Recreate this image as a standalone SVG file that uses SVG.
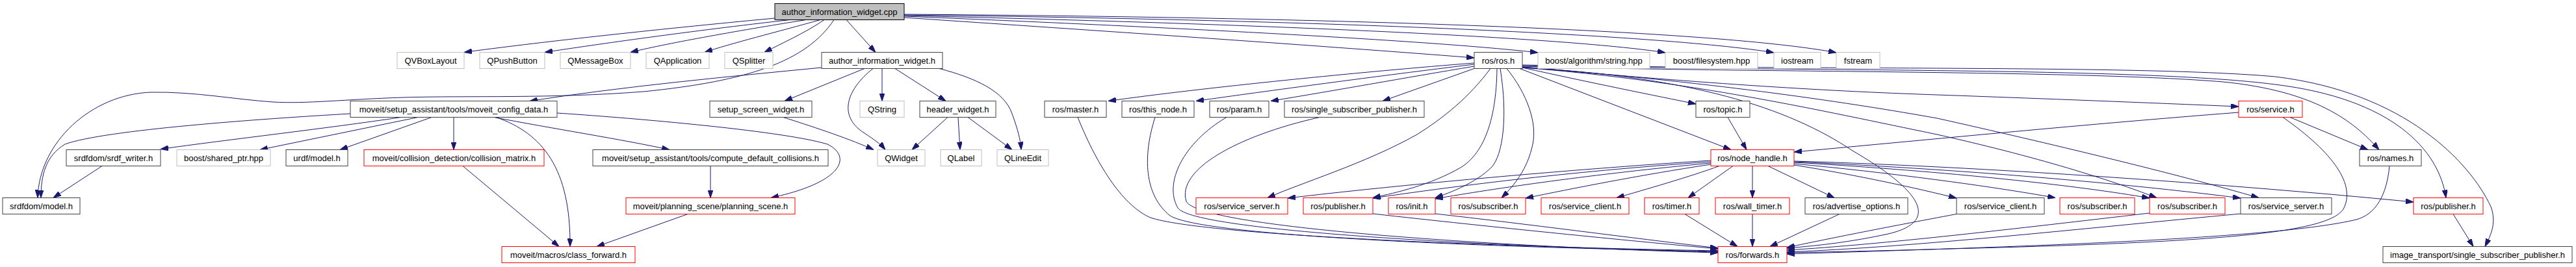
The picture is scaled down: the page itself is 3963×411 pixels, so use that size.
<svg xmlns="http://www.w3.org/2000/svg" width="3963" height="411" viewBox="0 0 3963 411">
<style>
rect{fill:#fff;stroke-width:1}
.b{stroke:#404040}
.g{stroke:#bfbfbf}
.r{stroke:#ff0000}
.top{fill:#bfbfbf;stroke:#000}
text{font-family:"Liberation Sans",Arial,sans-serif;font-size:13px;fill:#000;text-anchor:middle}
#edges path{fill:none;stroke:#191970;stroke-width:1;marker-end:url(#arr)}
</style>
<defs>
<marker id="arr" viewBox="0 0 12 8" refX="12" refY="4" markerWidth="12" markerHeight="8" orient="auto" markerUnits="userSpaceOnUse"><path d="M0,0 L12,4 L0,8 z" fill="#191970" stroke="#191970" stroke-width="1"/></marker>
</defs>
<rect x="0" y="0" width="3963" height="411" style="fill:#fff;stroke:none"/>
<g id="edges">
<path d="M1192,28 C1000,46 820,66 714,80.5"/>
<path d="M1215,30.5 C1060,48 920,68 838,80.5"/>
<path d="M1240,30.5 C1130,48 1020,68 970,80.5"/>
<path d="M1262,30.5 C1200,48 1120,68 1084,80.5"/>
<path d="M1268,30.5 C1240,50 1200,68 1176,80.5"/>
<path d="M1283,30.5 C1240,95 1150,125 990,141 C850,152 720,147 620,150 C530,153 470,160 420,157 C360,153 300,141 233,142 C140,145 60,220 58,304.5"/>
<path d="M1302,30.5 L1347,80.5"/>
<path d="M1391,27 C1700,48 2000,68 2268,89"/>
<path d="M1391,25 C1800,42 2200,62 2366,81"/>
<path d="M1391,24 C1900,36 2400,56 2562,81"/>
<path d="M1391,23 C2000,30 2550,52 2729,81"/>
<path d="M1391,22 C2100,27 2650,48 2825,81"/>
<path d="M1264,104 C1120,118 960,133 815,155.5"/>
<path d="M1330,105.5 L1207,155.5"/>
<path d="M1343,105.5 C1300,140 1290,180 1330,205 C1345,215 1355,222 1362,230.5"/>
<path d="M1357,105.5 L1357,155.5"/>
<path d="M1377,105.5 L1455,155.5"/>
<path d="M1445,105.5 C1500,120 1545,140 1557,175 C1566,200 1570,215 1571,230.5"/>
<path d="M539,175 C400,183 160,200 100,222 C70,240 63,270 63,304.5"/>
<path d="M617,180.5 C500,198 350,215 247,229.5"/>
<path d="M643,180.5 L400,230.5"/>
<path d="M664,180.5 L523,230.5"/>
<path d="M698,180.5 L698,230.5"/>
<path d="M763,180.5 C835,205 878,260 877,379.5"/>
<path d="M760,180.5 C850,198 960,215 1030,230.5"/>
<path d="M857,174 C950,180 1200,200 1273,222 C1310,240 1300,280 1186,304.5"/>
<path d="M712,255.5 L860,379.5"/>
<path d="M1093,255.5 L1093,304.5"/>
<path d="M1058,329.5 L918,379.5"/>
<path d="M157,255.5 L82,304.5"/>
<path d="M1205,180.5 C1260,198 1310,215 1344,230.5"/>
<path d="M1458,180.5 L1403,230.5"/>
<path d="M1474,180.5 L1477,230.5"/>
<path d="M1489,180.5 L1557,230.5"/>
<path d="M2268,97 C2100,110 1850,135 1705,155.5"/>
<path d="M2268,99 C2120,117 1950,140 1840,155.5"/>
<path d="M2268,102 C2160,120 2050,140 1955,155.5"/>
<path d="M2268,105.5 L2127,155.5"/>
<path d="M2293,105.5 C2260,150 2220,182 2180,207 C2100,252 2000,282 1950,304.5"/>
<path d="M2303,105.5 C2302,190 2280,238 2247,258 C2200,285 2150,296 2112,304.5"/>
<path d="M2308,105.5 C2320,180 2312,238 2295,257 C2270,282 2232,296 2208,304.5"/>
<path d="M2318,105.5 C2350,145 2365,190 2358,222 C2350,260 2330,285 2310,304.5"/>
<path d="M2342,104 C2450,128 2550,148 2609,160"/>
<path d="M2338,105.5 L2663,230.5"/>
<path d="M2342,103 C2600,127 2800,140 2980,146 C3150,152 3300,158 3444,164"/>
<path d="M2342,103 C2600,124 2800,150 2980,182 C3150,220 3350,268 3475,304.5"/>
<path d="M2342,104 C2600,124 2800,170 2980,207 C3150,245 3260,282 3318,304.5"/>
<path d="M2342,104 C2600,118 2750,165 2850,232 C2950,290 2990,340 2905,360 C2850,372 2800,378 2749,382"/>
<path d="M2342,102 C2700,112 3200,108 3420,126 C3560,140 3620,185 3660,230.5"/>
<path d="M2342,101 C2800,110 3300,104 3500,130 C3680,152 3752,230 3763,304.5"/>
<path d="M2342,100 C2800,108 3300,100 3500,118 C3700,142 3800,250 3832,318 C3842,345 3830,365 3823,379.5"/>
<path d="M3444,173 C3200,192 3000,212 2760,234"/>
<path d="M3523,180.5 L3643,230.5"/>
<path d="M3512,180.5 C3590,235 3625,285 3605,322 C3580,360 3400,373 3000,383 C2900,386 2800,388 2749,389"/>
<path d="M3676,255.5 C3672,300 3655,330 3625,338 C3500,368 3100,380 2749,391"/>
<path d="M3774,329.5 L3805,379.5"/>
<path d="M2658,180.5 L2687,230.5"/>
<path d="M2632,247 C2400,262 2150,285 1981,305"/>
<path d="M2632,249 C2400,265 2230,288 2112,305"/>
<path d="M2632,251 C2450,268 2300,290 2208,306"/>
<path d="M2632,253 C2520,270 2420,290 2347,305"/>
<path d="M2645,255.5 C2600,272 2530,292 2487,304.5"/>
<path d="M2666,255.5 L2597,304.5"/>
<path d="M2696,255.5 L2696,304.5"/>
<path d="M2720,255.5 L2822,304.5"/>
<path d="M2760,254 C2860,270 2950,290 3010,305"/>
<path d="M2760,252 C2900,265 3060,286 3162,304.5"/>
<path d="M2760,250 C3000,264 3200,286 3307,305"/>
<path d="M2760,249 C3050,262 3300,286 3447,305"/>
<path d="M2760,248 C3100,258 3500,290 3713,311"/>
<path d="M1658,180.5 C1690,260 1730,318 1770,335 C1850,362 2300,380 2643,386"/>
<path d="M1777,180.5 C1758,240 1760,300 1800,332 C1850,364 2300,381 2643,387"/>
<path d="M1887,180.5 C1820,220 1790,282 1812,320 C1835,356 2300,380 2643,388"/>
<path d="M2030,180.5 C1900,210 1810,262 1825,310 C1845,350 2300,380 2643,389"/>
<path d="M2112,329 C2300,350 2500,370 2643,383"/>
<path d="M2208,329 C2350,345 2500,365 2643,382"/>
<path d="M2592,329.5 L2673,379.5"/>
<path d="M2696,329.5 L2696,379.5"/>
<path d="M2830,329.5 L2723,379.5"/>
<path d="M3010,329.5 C2900,350 2800,370 2749,381"/>
<path d="M3307,328 C3100,352 2900,376 2749,385"/>
<path d="M3447,329 C3200,352 2950,380 2749,388"/>
</g>
<g id="n_cpp"><rect class="top" x="1192" y="5.5" width="199" height="25"/><text x="1291.5" y="22.5">author_information_widget.cpp</text></g>
<g id="n_qvbox"><rect class="g" x="611" y="80.5" width="103" height="25"/><text x="662.5" y="97.5">QVBoxLayout</text></g>
<g id="n_qpush"><rect class="g" x="738" y="80.5" width="100" height="25"/><text x="788" y="97.5">QPushButton</text></g>
<g id="n_qmsg"><rect class="g" x="862" y="80.5" width="108" height="25"/><text x="916" y="97.5">QMessageBox</text></g>
<g id="n_qapp"><rect class="g" x="994" y="80.5" width="97" height="25"/><text x="1042.5" y="97.5">QApplication</text></g>
<g id="n_qsplit"><rect class="g" x="1115" y="80.5" width="74" height="25"/><text x="1152" y="97.5">QSplitter</text></g>
<g id="n_aiwh"><rect class="b" x="1264" y="80.5" width="186" height="25"/><text x="1357" y="97.5">author_information_widget.h</text></g>
<g id="n_ros"><rect class="b" x="2268" y="80.5" width="74" height="25"/><text x="2305" y="97.5">ros/ros.h</text></g>
<g id="n_bas"><rect class="g" x="2366" y="80.5" width="172" height="25"/><text x="2452" y="97.5">boost/algorithm/string.hpp</text></g>
<g id="n_bfs"><rect class="g" x="2562" y="80.5" width="142" height="25"/><text x="2633" y="97.5">boost/filesystem.hpp</text></g>
<g id="n_ios"><rect class="g" x="2729" y="80.5" width="72" height="25"/><text x="2765" y="97.5">iostream</text></g>
<g id="n_fst"><rect class="g" x="2825" y="80.5" width="67" height="25"/><text x="2858.5" y="97.5">fstream</text></g>
<g id="n_mcd"><rect class="b" x="539" y="155.5" width="318" height="25"/><text x="698" y="172.5">moveit/setup_assistant/tools/moveit_config_data.h</text></g>
<g id="n_ssw"><rect class="b" x="1092" y="155.5" width="157" height="25"/><text x="1170.5" y="172.5">setup_screen_widget.h</text></g>
<g id="n_qstr"><rect class="g" x="1323" y="155.5" width="68" height="25"/><text x="1357" y="172.5">QString</text></g>
<g id="n_hw"><rect class="b" x="1415" y="155.5" width="117" height="25"/><text x="1473.5" y="172.5">header_widget.h</text></g>
<g id="n_master"><rect class="b" x="1607" y="155.5" width="95" height="25"/><text x="1654.5" y="172.5">ros/master.h</text></g>
<g id="n_thisnode"><rect class="b" x="1726" y="155.5" width="111" height="25"/><text x="1781.5" y="172.5">ros/this_node.h</text></g>
<g id="n_param"><rect class="b" x="1861" y="155.5" width="91" height="25"/><text x="1906.5" y="172.5">ros/param.h</text></g>
<g id="n_ssp"><rect class="b" x="1976" y="155.5" width="215" height="25"/><text x="2083.5" y="172.5">ros/single_subscriber_publisher.h</text></g>
<g id="n_topic"><rect class="b" x="2609" y="155.5" width="83" height="25"/><text x="2650.5" y="172.5">ros/topic.h</text></g>
<g id="n_service"><rect class="r" x="3444" y="155.5" width="98" height="25"/><text x="3493" y="172.5">ros/service.h</text></g>
<g id="n_srdfw"><rect class="b" x="102" y="230.5" width="145" height="25"/><text x="174.5" y="247.5">srdfdom/srdf_writer.h</text></g>
<g id="n_shptr"><rect class="g" x="272" y="230.5" width="144" height="25"/><text x="344" y="247.5">boost/shared_ptr.hpp</text></g>
<g id="n_urdf"><rect class="b" x="440" y="230.5" width="95" height="25"/><text x="487.5" y="247.5">urdf/model.h</text></g>
<g id="n_colm"><rect class="r" x="560" y="230.5" width="277" height="25"/><text x="698.5" y="247.5">moveit/collision_detection/collision_matrix.h</text></g>
<g id="n_cdc"><rect class="b" x="912" y="230.5" width="362" height="25"/><text x="1093" y="247.5">moveit/setup_assistant/tools/compute_default_collisions.h</text></g>
<g id="n_qwid"><rect class="g" x="1350" y="230.5" width="73" height="25"/><text x="1386.5" y="247.5">QWidget</text></g>
<g id="n_qlab"><rect class="g" x="1447" y="230.5" width="63" height="25"/><text x="1478.5" y="247.5">QLabel</text></g>
<g id="n_qline"><rect class="g" x="1534" y="230.5" width="79" height="25"/><text x="1573.5" y="247.5">QLineEdit</text></g>
<g id="n_nh"><rect class="r" x="2632" y="230.5" width="128" height="25"/><text x="2696" y="247.5">ros/node_handle.h</text></g>
<g id="n_names"><rect class="b" x="3630" y="230.5" width="95" height="25"/><text x="3677.5" y="247.5">ros/names.h</text></g>
<g id="n_srdfm"><rect class="b" x="4" y="304.5" width="119" height="25"/><text x="63.5" y="321.5">srdfdom/model.h</text></g>
<g id="n_ps"><rect class="r" x="963" y="304.5" width="260" height="25"/><text x="1093" y="321.5">moveit/planning_scene/planning_scene.h</text></g>
<g id="n_ssrv1"><rect class="r" x="1840" y="304.5" width="141" height="25"/><text x="1910.5" y="321.5">ros/service_server.h</text></g>
<g id="n_pub1"><rect class="r" x="2005" y="304.5" width="107" height="25"/><text x="2058.5" y="321.5">ros/publisher.h</text></g>
<g id="n_init"><rect class="r" x="2136" y="304.5" width="72" height="25"/><text x="2172" y="321.5">ros/init.h</text></g>
<g id="n_sub1"><rect class="r" x="2232" y="304.5" width="115" height="25"/><text x="2289.5" y="321.5">ros/subscriber.h</text></g>
<g id="n_scl1"><rect class="r" x="2371" y="304.5" width="135" height="25"/><text x="2438.5" y="321.5">ros/service_client.h</text></g>
<g id="n_timer"><rect class="r" x="2530" y="304.5" width="84" height="25"/><text x="2572" y="321.5">ros/timer.h</text></g>
<g id="n_wtimer"><rect class="r" x="2639" y="304.5" width="114" height="25"/><text x="2696" y="321.5">ros/wall_timer.h</text></g>
<g id="n_adv"><rect class="b" x="2777" y="304.5" width="158" height="25"/><text x="2856" y="321.5">ros/advertise_options.h</text></g>
<g id="n_scl2"><rect class="b" x="3010" y="304.5" width="135" height="25"/><text x="3077.5" y="321.5">ros/service_client.h</text></g>
<g id="n_sub2"><rect class="r" x="3169" y="304.5" width="115" height="25"/><text x="3226.5" y="321.5">ros/subscriber.h</text></g>
<g id="n_sub3"><rect class="r" x="3307" y="304.5" width="116" height="25"/><text x="3365" y="321.5">ros/subscriber.h</text></g>
<g id="n_ssrv2"><rect class="b" x="3447" y="304.5" width="140" height="25"/><text x="3517" y="321.5">ros/service_server.h</text></g>
<g id="n_pub2"><rect class="r" x="3713" y="304.5" width="107" height="25"/><text x="3766.5" y="321.5">ros/publisher.h</text></g>
<g id="n_cf"><rect class="r" x="772" y="379.5" width="205" height="25"/><text x="874.5" y="396.5">moveit/macros/class_forward.h</text></g>
<g id="n_fwd"><rect class="r" x="2643" y="379.5" width="106" height="25"/><text x="2696" y="396.5">ros/forwards.h</text></g>
<g id="n_itssp"><rect class="b" x="3666" y="379.5" width="291" height="25"/><text x="3811.5" y="396.5">image_transport/single_subscriber_publisher.h</text></g>
</svg>
